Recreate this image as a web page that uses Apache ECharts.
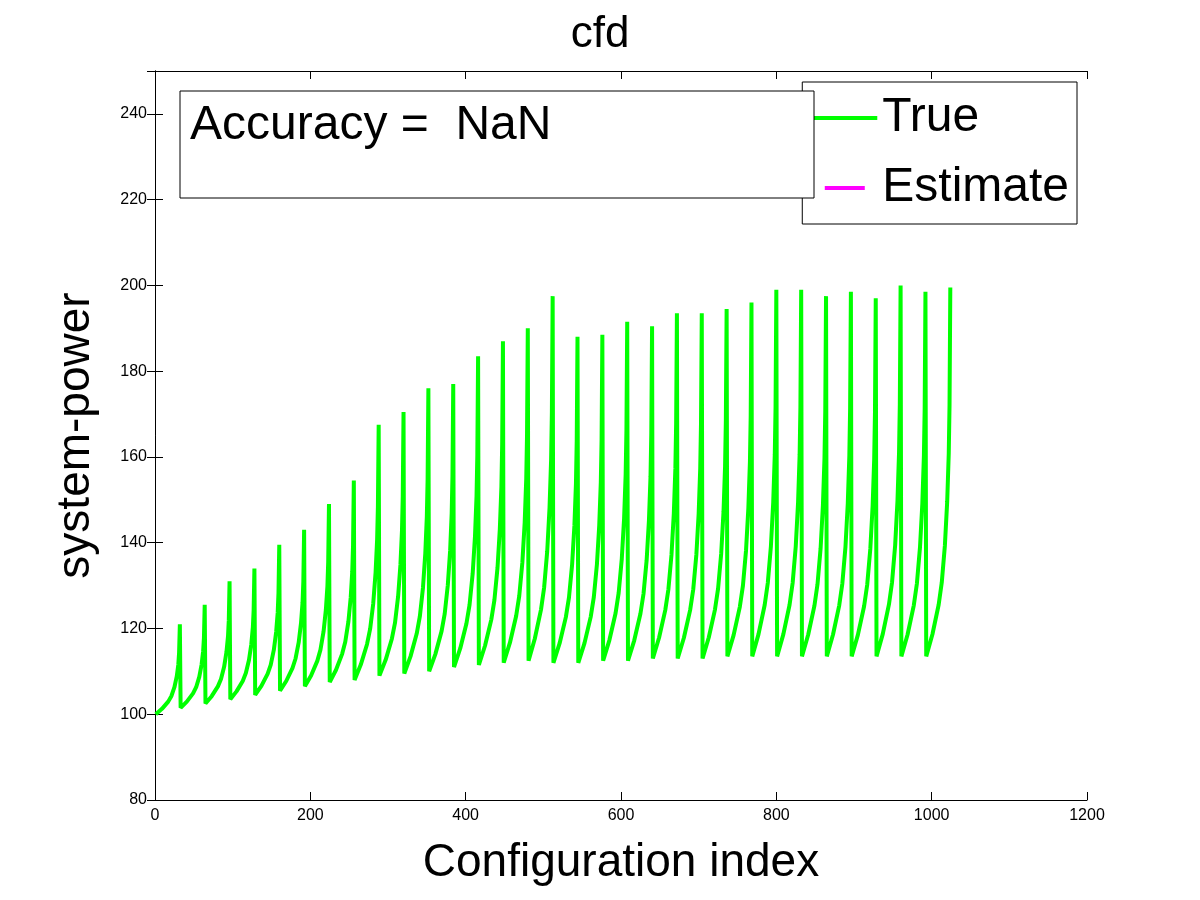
<!DOCTYPE html>
<html>
<head>
<meta charset="utf-8">
<script src="https://cdn.jsdelivr.net/npm/echarts@6/dist/echarts.min.js"></script>
<style>html,body{margin:0;padding:0;background:#fff}#main{width:1200px;height:900px}</style>
</head>
<body>
<div id="main"></div>
<script>
// 每段 32 个配置：起点（最低）和终点（峰值）
var segLows = [100, 101.5, 102.5, 103.5, 104.5, 105.5, 106.5, 107.5, 108, 109, 109.5, 110, 111, 111.5, 112, 112.5,
  112, 112, 112.5, 112.5, 113, 113, 113, 113.5, 113.5, 113.5, 113.5, 113.5, 113.5, 113.5, 113.5, 113.5];
var segPeaks = [121, 125.5, 131, 134, 139.5, 143, 149, 154.5, 167.5, 170.5, 176, 177, 183.5, 187, 190, 197.5,
  188, 188.5, 191.5, 190.5, 193.5, 193.5, 194.5, 196, 199, 199, 197.5, 198.5, 197, 200, 198.5, 199.5];
// 段内形状：偏移量与上升比例
var shapeOffsets = [0, 8, 16, 20, 24, 27, 29, 30, 31];
var shapeFracs = [0, 0.06, 0.14, 0.2, 0.3, 0.42, 0.55, 0.68, 1];

var trueData = [];
for (var k = 0; k < segLows.length; k++) {
  for (var j = 0; j < shapeOffsets.length; j++) {
    trueData.push([k * 32 + 1 + shapeOffsets[j], segLows[k] + shapeFracs[j] * (segPeaks[k] - segLows[k])]);
  }
}

var chart = echarts.init(document.getElementById('main'));
var font = 'Arial, "Liberation Sans", sans-serif';
var tick = { show: true, inside: true, length: 8, lineStyle: { color: '#000' } };
var option = {
  animation: false,
  backgroundColor: '#fff',
  title: {
    text: 'cfd',
    left: 'center',
    top: 8,
    textStyle: { fontFamily: font, fontSize: 44, fontWeight: 'normal', color: '#000' }
  },
  grid: { left: 155, right: 113, top: 71, bottom: 100 },
  legend: {
    orient: 'vertical',
    right: 123,
    top: 82,
    itemWidth: 65,
    itemHeight: 4,
    itemGap: 22,
    padding: [12, 8, 12, 10],
    borderColor: '#000',
    borderWidth: 1,
    borderRadius: 0,
    backgroundColor: '#fff',
    textStyle: { fontFamily: font, fontSize: 48, color: '#000' },
    data: [
      { name: 'True', icon: 'rect' },
      { name: 'Estimate', icon: 'path://M0,45 H100 V55 H0 Z' }
    ]
  },
  xAxis: [{
    type: 'value', min: 0, max: 1200, interval: 200,
    name: 'Configuration index', nameLocation: 'middle', nameGap: 40,
    nameTextStyle: { fontFamily: font, fontSize: 46, color: '#000' },
    axisLine: { lineStyle: { color: '#000' } },
    axisTick: tick,
    axisLabel: { fontFamily: font, fontSize: 16, color: '#000', formatter: function (v) { return String(v); } },
    splitLine: { show: false }
  }, {
    type: 'value', min: 0, max: 1200, interval: 200, position: 'top',
    axisLine: { lineStyle: { color: '#000' } },
    axisTick: tick,
    axisLabel: { show: false }, splitLine: { show: false }
  }],
  yAxis: [{
    type: 'value', min: 80, max: 250, interval: 20,
    name: 'system-power', nameLocation: 'middle', nameGap: 56,
    nameTextStyle: { fontFamily: font, fontSize: 46, color: '#000' },
    axisLine: { show: true, lineStyle: { color: '#000' } },
    axisTick: tick,
    axisLabel: {
      fontFamily: font, fontSize: 16, color: '#000',
      formatter: function (v) { return v > 240 ? '' : String(v); }
    },
    splitLine: { show: false }
  }, {
    type: 'value', min: 80, max: 250, interval: 20, position: 'right',
    axisLine: { show: true, lineStyle: { color: '#000' } },
    axisTick: tick,
    axisLabel: { show: false }, splitLine: { show: false }
  }],
  graphic: [{
    type: 'rect',
    shape: { x: 180, y: 91, width: 634, height: 107 },
    style: { fill: '#fff', stroke: '#000', lineWidth: 1 },
    z: 10
  }, {
    type: 'text',
    left: 190, top: 102,
    style: { text: 'Accuracy =  NaN', font: '48px Arial, "Liberation Sans", sans-serif', fill: '#000' },
    z: 11
  }],
  series: [{
    name: 'True',
    type: 'line',
    data: trueData,
    symbol: 'none',
    color: '#00ff00',
    lineStyle: { width: 4, color: '#00ff00' }
  }, {
    name: 'Estimate',
    type: 'line',
    data: [],
    symbol: 'none',
    color: '#ff00ff',
    lineStyle: { width: 1, color: '#ff00ff' }
  }]
};
chart.setOption(option);
</script>
</body>
</html>
